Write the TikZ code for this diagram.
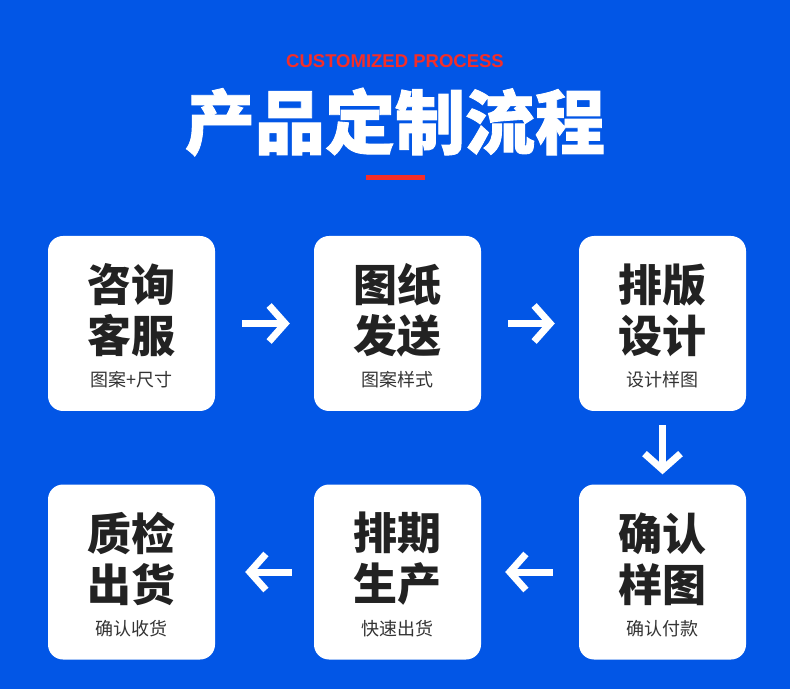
\documentclass[tikz,border=0pt]{standalone}
\usepackage{fontspec}
\usetikzlibrary{arrows.meta}
\newfontfamily\cjk{Noto Sans CJK SC}
\newfontfamily\cjkheavy{Noto Sans CJK SC}[UprightFeatures={FakeBold=0}, BoldFeatures={FakeBold=1.2}]
\newfontfamily\enfont{Liberation Sans}
\definecolor{bgblue}{RGB}{2,86,230}
\definecolor{redtxt}{RGB}{245,45,40}
\definecolor{bigtxt}{RGB}{34,34,34}
\definecolor{smalltxt}{RGB}{51,51,51}
\tikzset{
  card/.style={fill=white, rounded corners=15pt, minimum width=167pt, minimum height=175pt, inner sep=0pt},
  bigline/.style={font=\cjk\bfseries\fontsize{44}{44}\selectfont, text=bigtxt, inner sep=0pt, anchor=center},
  smallline/.style={font=\cjk\fontsize{18}{18}\selectfont, text=smalltxt, inner sep=0pt, anchor=center},
  flow/.style={draw=white, line width=7pt, -{Straight Barb[length=16pt,width=36pt]}, shorten <=27pt, shorten >=24pt}
}
\begin{document}
\begin{tikzpicture}[x=1pt,y=-1pt]
\useasboundingbox (0,0) rectangle (790,700);
\fill[white] (0,0) rectangle (790,700);
\fill[bgblue] (0,0) rectangle (790,689);
% header
\node[font=\enfont\bfseries\fontsize{18.5}{18.5}\selectfont, text=redtxt, inner sep=0pt] (sub) at (395,61) {CUSTOMIZED PROCESS};
\node[font=\cjkheavy\bfseries\fontsize{70}{70}\selectfont, text=white, inner sep=0pt] (title) at (395,122) {产品定制流程};
\fill[redtxt] (366,175) rectangle (425,180);
% cards
\node[card] (b1) at (131.5,323.5) {};
\node[card] (b2) at (397.5,323.5) {};
\node[card] (b3) at (662.5,323.5) {};
\node[card] (b4) at (662.5,572) {};
\node[card] (b5) at (397.5,572) {};
\node[card] (b6) at (131.5,572) {};
% card texts
\foreach \b/\la/\lb/\s in {b1/咨询/客服/图案+尺寸, b2/图纸/发送/图案样式, b3/排版/设计/设计样图, b4/确认/样图/确认付款, b5/排期/生产/快速出货, b6/质检/出货/确认收货}{
  \node[bigline] (\b t1) at ([yshift=-49pt]\b.north) {\la};
  \node[bigline] (\b t2) at ([yshift=-100pt]\b.north) {\lb};
  \node[smallline] (\b s) at ([yshift=-144pt]\b.north) {\s};
}
% connectors
\draw[flow] (b1.east) -- (b2.west);
\draw[flow] (b2.east) -- (b3.west);
\draw[flow, shorten <=14pt, shorten >=10pt] (b3.south) -- (b4.north);
\draw[flow, shorten <=26pt, shorten >=24pt] (b4.west) -- (b5.east);
\draw[flow, shorten <=22pt, shorten >=30pt] (b5.west) -- (b6.east);
\end{tikzpicture}
\end{document}
